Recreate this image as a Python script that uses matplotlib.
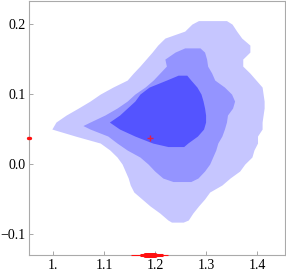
import matplotlib.pyplot as plt
import numpy as np

# outer (lightest) level: row y, left x, right x
outer_y = [0.205, 0.20, 0.19, 0.18, 0.17, 0.16, 0.15, 0.14, 0.13, 0.12, 0.11, 0.10,
           0.09, 0.08, 0.07, 0.06, 0.05, 0.04, 0.03, 0.02, 0.01, 0.00, -0.01, -0.02,
           -0.03, -0.04, -0.05, -0.06, -0.07, -0.08, -0.083]
outer_left = [1.285, 1.272, 1.258, 1.219, 1.205, 1.194, 1.182, 1.170, 1.157, 1.145, 1.117, 1.092,
              1.072, 1.049, 1.025, 1.005, 0.997, 1.043, 1.092, 1.111, 1.125, 1.135, 1.141, 1.147,
              1.151, 1.158, 1.174, 1.190, 1.209, 1.225, 1.232]
outer_right = [1.340, 1.351, 1.360, 1.370, 1.386, 1.386, 1.372, 1.372, 1.386, 1.398, 1.410, 1.412,
               1.414, 1.414, 1.412, 1.410, 1.410, 1.401, 1.401, 1.394, 1.390, 1.376, 1.366, 1.347,
               1.331, 1.307, 1.297, 1.285, 1.274, 1.265, 1.255]

# middle level
mid_y = [0.166, 0.16, 0.15, 0.14, 0.13, 0.12, 0.11, 0.10, 0.09, 0.08, 0.07, 0.06, 0.055,
         0.05, 0.04, 0.03, 0.02, 0.01, 0.00, -0.01, -0.02, -0.025]
mid_left = [1.258, 1.239, 1.219, 1.222, 1.209, 1.196, 1.180, 1.160, 1.145, 1.125, 1.101, 1.072, 1.058,
            1.072, 1.107, 1.125, 1.145, 1.170, 1.186, 1.199, 1.215, 1.235]
mid_right = [1.288, 1.297, 1.301, 1.303, 1.311, 1.317, 1.336, 1.350, 1.356, 1.352, 1.342, 1.340, 1.338,
             1.336, 1.331, 1.323, 1.319, 1.313, 1.307, 1.297, 1.284, 1.270]

# inner (darkest) level
inner_y = [0.127, 0.12, 0.11, 0.10, 0.09, 0.08, 0.07, 0.06, 0.05, 0.04, 0.03, 0.025]
inner_left = [1.245, 1.222, 1.188, 1.170, 1.160, 1.145, 1.130, 1.110, 1.130, 1.160, 1.195, 1.225]
inner_right = [1.262, 1.270, 1.282, 1.290, 1.294, 1.297, 1.299, 1.299, 1.295, 1.283, 1.264, 1.256]

# best-fit point and its marginal spreads
best_x, best_y = 1.19, 0.037
x_whisker = [1.152, 1.225]
x_box = [1.170, 1.215]
x_core = [1.180, 1.199]

x_ticks = [1.0, 1.1, 1.2, 1.3, 1.4]
x_labels = ['1.', '1.1', '1.2', '1.3', '1.4']
y_ticks = [-0.1, 0.0, 0.1, 0.2]
y_labels = ['\u22120.1', '0.0', '0.1', '0.2']

plt.rcParams['font.family'] = ['Liberation Serif', 'DejaVu Serif']

fig = plt.figure(figsize=(2.86, 2.71), dpi=100)
ax = fig.add_axes([0.103, 0.059, 0.8935, 0.9373])

ax.fill_betweenx(outer_y, outer_left, outer_right, color='#c6c6ff', lw=0)
ax.fill_betweenx(mid_y, mid_left, mid_right, color='#9494ff', lw=0)
ax.fill_betweenx(inner_y, inner_left, inner_right, color='#5454ff', lw=0)

ax.set_xlim(0.953, 1.455)
ax.set_ylim(-0.13, 0.233)

red = '#ff1010'
ax.plot(best_x, best_y, '+', color='#e0204a', ms=5, mew=1, zorder=5)
ax.plot(x_whisker, [-0.13, -0.13], color=red, lw=0.8, clip_on=False, solid_capstyle='butt', zorder=5)
ax.plot(x_box, [-0.13, -0.13], color=red, lw=2.2, clip_on=False, solid_capstyle='butt', zorder=5)
ax.plot(x_core, [-0.13, -0.13], color=red, lw=3.6, clip_on=False, solid_capstyle='round', zorder=5)
ax.plot([0.951, 0.955], [best_y, best_y], color=red, lw=2.4, clip_on=False,
        solid_capstyle='round', zorder=5)

ax.set_xticks(x_ticks)
ax.set_xticklabels(x_labels)
ax.set_yticks(y_ticks)
ax.set_yticklabels(y_labels)
ax.tick_params(direction='in', length=3, width=0.6, color='#999999', labelsize=10, pad=3)
for s in ax.spines.values():
    s.set_color('#aaaaaa')
    s.set_linewidth(0.8)

fig.savefig('out.png', dpi=100)
